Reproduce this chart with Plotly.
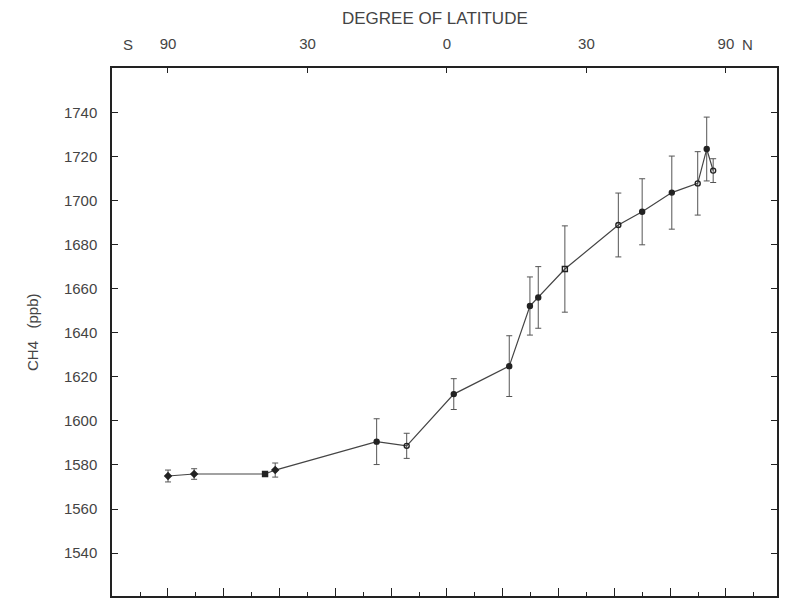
import numpy as np
import plotly.graph_objects as go

# Data
latitude = [-89, -65, -40.7, -38, -14.6, -8.3, 1.4, 12.9, 17.3, 19.1, 25.0, 37.9, 44.4, 53.7, 64.0, 68.6, 72.6]
ch4_ppb = [1575.0, 1575.9, 1575.9, 1577.7, 1590.6, 1588.7, 1612.2, 1624.9, 1652.2, 1656.1, 1669.0, 1689.0, 1695.0, 1703.7, 1707.9, 1723.5, 1713.7]
ch4_err = [2.7, 2.4, 0.8, 3.2, 10.4, 5.7, 7.0, 13.8, 13.2, 14.0, 19.6, 14.5, 15.0, 16.6, 14.4, 14.5, 5.4]

top_tick_lat = [-90, -30, 0, 30, 90]
top_tick_text = ["90", "30", "0", "30", "90"]
y_ticks = [1540, 1560, 1580, 1600, 1620, 1640, 1660, 1680, 1700, 1720, 1740]

marker_symbols = ["diamond", "diamond", "square", "diamond", "circle", "circle-open",
                  "circle", "circle", "circle", "circle", "square-open", "circle-open",
                  "circle", "circle", "circle-open", "circle", "circle-open"]

x_sin = np.sin(np.radians(latitude))
xr = [-1.2007, 1.183]
yr = [1520.5, 1760.3]

font = dict(family="Liberation Sans, Arial, sans-serif", size=15, color="#444")

fig = go.Figure()
fig.add_trace(go.Scatter(
    x=x_sin, y=ch4_ppb, mode="lines+markers",
    line=dict(color="#444", width=1.2),
    marker=dict(symbol=marker_symbols, size=5, color="#222",
                line=dict(color="#222", width=1.4)),
    error_y=dict(type="data", array=ch4_err, visible=True,
                 color="#555", thickness=1, width=3),
    showlegend=False,
))

fig.update_layout(
    width=787, height=599,
    margin=dict(l=112, r=10, t=68, b=3),
    paper_bgcolor="white", plot_bgcolor="white",
    font=font,
    xaxis=dict(
        range=xr, side="top",
        tickmode="array",
        tickvals=list(np.sin(np.radians(top_tick_lat))),
        ticktext=top_tick_text,
        ticks="inside", ticklen=5, tickcolor="#222", tickwidth=1,
        showline=True, linecolor="#222", linewidth=1.5, mirror=False,
        showgrid=False, zeroline=False,
        ticklabelstandoff=11,
        tickfont=font,
    ),
    xaxis2=dict(
        range=xr, overlaying="x", side="bottom",
        tickmode="linear", tick0=-1, dtick=0.2,
        ticks="inside", ticklen=8, tickcolor="#222", tickwidth=1,
        minor=dict(tickmode="linear", tick0=-0.9, dtick=0.2, ticks="inside",
                   ticklen=4, tickcolor="#222", tickwidth=1),
        showticklabels=False,
        showline=True, linecolor="#222", linewidth=1.5,
        showgrid=False, zeroline=False,
    ),
    yaxis=dict(
        range=yr, tickmode="array", tickvals=y_ticks,
        ticks="inside", ticklen=6, tickcolor="#222", tickwidth=1,
        showline=True, linecolor="#222", linewidth=1.5, mirror="ticks",
        showgrid=False, zeroline=False,
        ticklabelstandoff=10,
        tickfont=font,
    ),
    annotations=[
        dict(text="DEGREE OF LATITUDE", xref="paper", yref="paper", x=0.486, y=1,
             yshift=50, yanchor="middle", showarrow=False,
             font=dict(family=font["family"], size=17, color="#444")),
        dict(text="S", xref="paper", yref="paper", x=0.0135, y=1, yshift=24,
             yanchor="middle", showarrow=False, font=font),
        dict(text="N", xref="paper", yref="paper", x=0.967, y=1, yshift=24,
             yanchor="middle", showarrow=False, font=font),
        dict(text="CH4&nbsp;&nbsp;&nbsp;(ppb)", xref="paper", yref="paper", x=0, y=0.5,
             xanchor="center", xshift=-80,
             textangle=-90, showarrow=False, font=font),
    ],
)
# bottom axis trace anchor
fig.add_trace(go.Scatter(x=[None], y=[None], xaxis="x2", showlegend=False, hoverinfo="skip"))

fig.write_html("out.html")
